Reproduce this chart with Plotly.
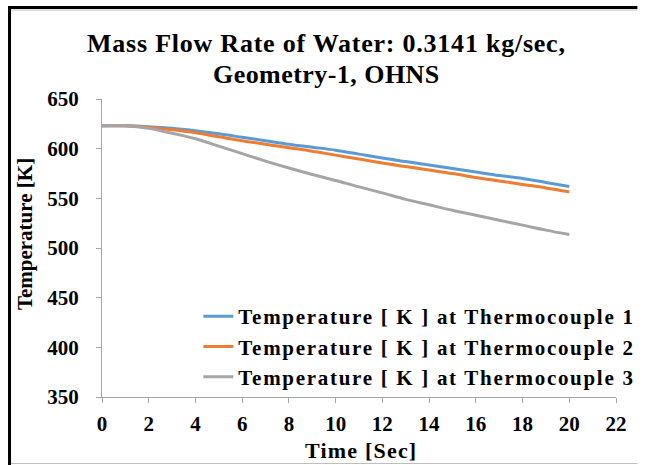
import plotly.graph_objects as go

time_s = [0, 1, 2, 3, 4, 5, 6, 7, 8, 9, 10, 11, 12, 13, 14, 15, 16, 17, 18, 19, 20]
tc1 = [623, 623, 622, 620.5, 618, 615, 611.5, 608, 604.5, 601.5, 598.5, 594.5, 590.5, 587, 583.5, 580, 576.5, 573, 570, 566, 562]
tc2 = [623, 623, 621.5, 619, 616, 612, 608, 604.5, 601, 597.5, 593.5, 589.5, 585.5, 582, 578.5, 575, 571, 567.5, 564, 560.5, 556.5]
tc3 = [623, 623, 620.5, 615.5, 610, 602.5, 595, 587.5, 580.5, 574, 568, 561.5, 555.5, 549, 543.5, 538, 533, 528, 523, 518, 513.5]
names = ["Temperature [ K ] at Thermocouple 1",
         "Temperature [ K ] at Thermocouple 2",
         "Temperature [ K ] at Thermocouple 3"]
colors = ["#5B9BD5", "#ED7D31", "#A5A5A5"]
x_ticks = list(range(0, 23, 2))
y_ticks = list(range(350, 651, 50))
title_lines = ["Mass Flow Rate of Water: 0.3141 kg/sec,", "Geometry-1, OHNS"]

W, H = 652, 465
L, R, T, B = 102, 22, 99, 68
pw, ph = W - L - R, H - T - B

def px(xp):
    return (xp - L) / pw

def py(yp):
    return (H - B - yp) / ph

def spaced(s, ls):
    return '<span style="letter-spacing:%.2fpx">%s</span>' % (ls, s)

FONT = "Liberation Serif"

fig = go.Figure()
for ys, n, c in zip([tc1, tc2, tc3], names, colors):
    fig.add_trace(go.Scatter(x=time_s, y=ys, name=spaced(n, 1.7), mode="lines",
                             line=dict(color=c, width=3, shape="spline")))

axis_common = dict(showgrid=False, zeroline=False, showline=True,
                   linecolor="#A6A6A6", linewidth=1, ticks="outside",
                   tickcolor="#A6A6A6", ticklen=5,
                   tickfont=dict(family=FONT, size=21, color="black", weight="bold"))

fig.update_layout(
    width=W, height=H, autosize=False,
    margin=dict(l=L, r=R, t=T, b=B),
    paper_bgcolor="white", plot_bgcolor="white",
    xaxis=dict(range=[0, 22], tickvals=x_ticks, ticklabelstandoff=3, **axis_common),
    yaxis=dict(range=[350, 650], tickvals=y_ticks, ticklabelstandoff=13, **axis_common),
    legend=dict(x=px(655), xanchor="right", y=py(296), yanchor="top",
                bgcolor="rgba(0,0,0,0)",
                font=dict(family=FONT, size=21, color="black", weight="bold"),
                tracegroupgap=0),
    showlegend=True,
)

for line_text, yc, ls in zip(title_lines, [43, 75], [0.77, 0.45]):
    fig.add_annotation(text=spaced("<b>%s</b>" % line_text, ls), xref="paper", yref="paper",
                       x=px(333), y=py(yc), showarrow=False, xanchor="center", yanchor="middle",
                       font=dict(family=FONT, size=26, color="black"))

fig.add_annotation(text=spaced("<b>Time [Sec]</b>", 1.2), xref="paper", yref="paper",
                   x=px(368), y=py(450), showarrow=False, xanchor="center", yanchor="middle",
                   font=dict(family=FONT, size=22, color="black"))
fig.add_annotation(text="<b>Temperature [K]</b>", xref="paper", yref="paper",
                   x=px(23), y=py(234), showarrow=False, xanchor="center", yanchor="middle",
                   textangle=-90, font=dict(family=FONT, size=21, color="black"))

# outer frame
fig.add_shape(type="line", xref="paper", yref="paper", x0=px(6), x1=px(652), y0=py(7.5), y1=py(7.5),
              line=dict(color="black", width=3))
fig.add_shape(type="line", xref="paper", yref="paper", x0=px(7), x1=px(7), y0=py(6), y1=py(465),
              line=dict(color="black", width=3))
fig.add_shape(type="line", xref="paper", yref="paper", x0=px(8.5), x1=px(652), y0=py(10), y1=py(10),
              line=dict(color="#BFBFBF", width=1))
fig.add_shape(type="line", xref="paper", yref="paper", x0=px(8.5), x1=px(652), y0=py(463.5), y1=py(463.5),
              line=dict(color="#BFBFBF", width=1))

fig.write_html("out.html", config={"displayModeBar": False})
